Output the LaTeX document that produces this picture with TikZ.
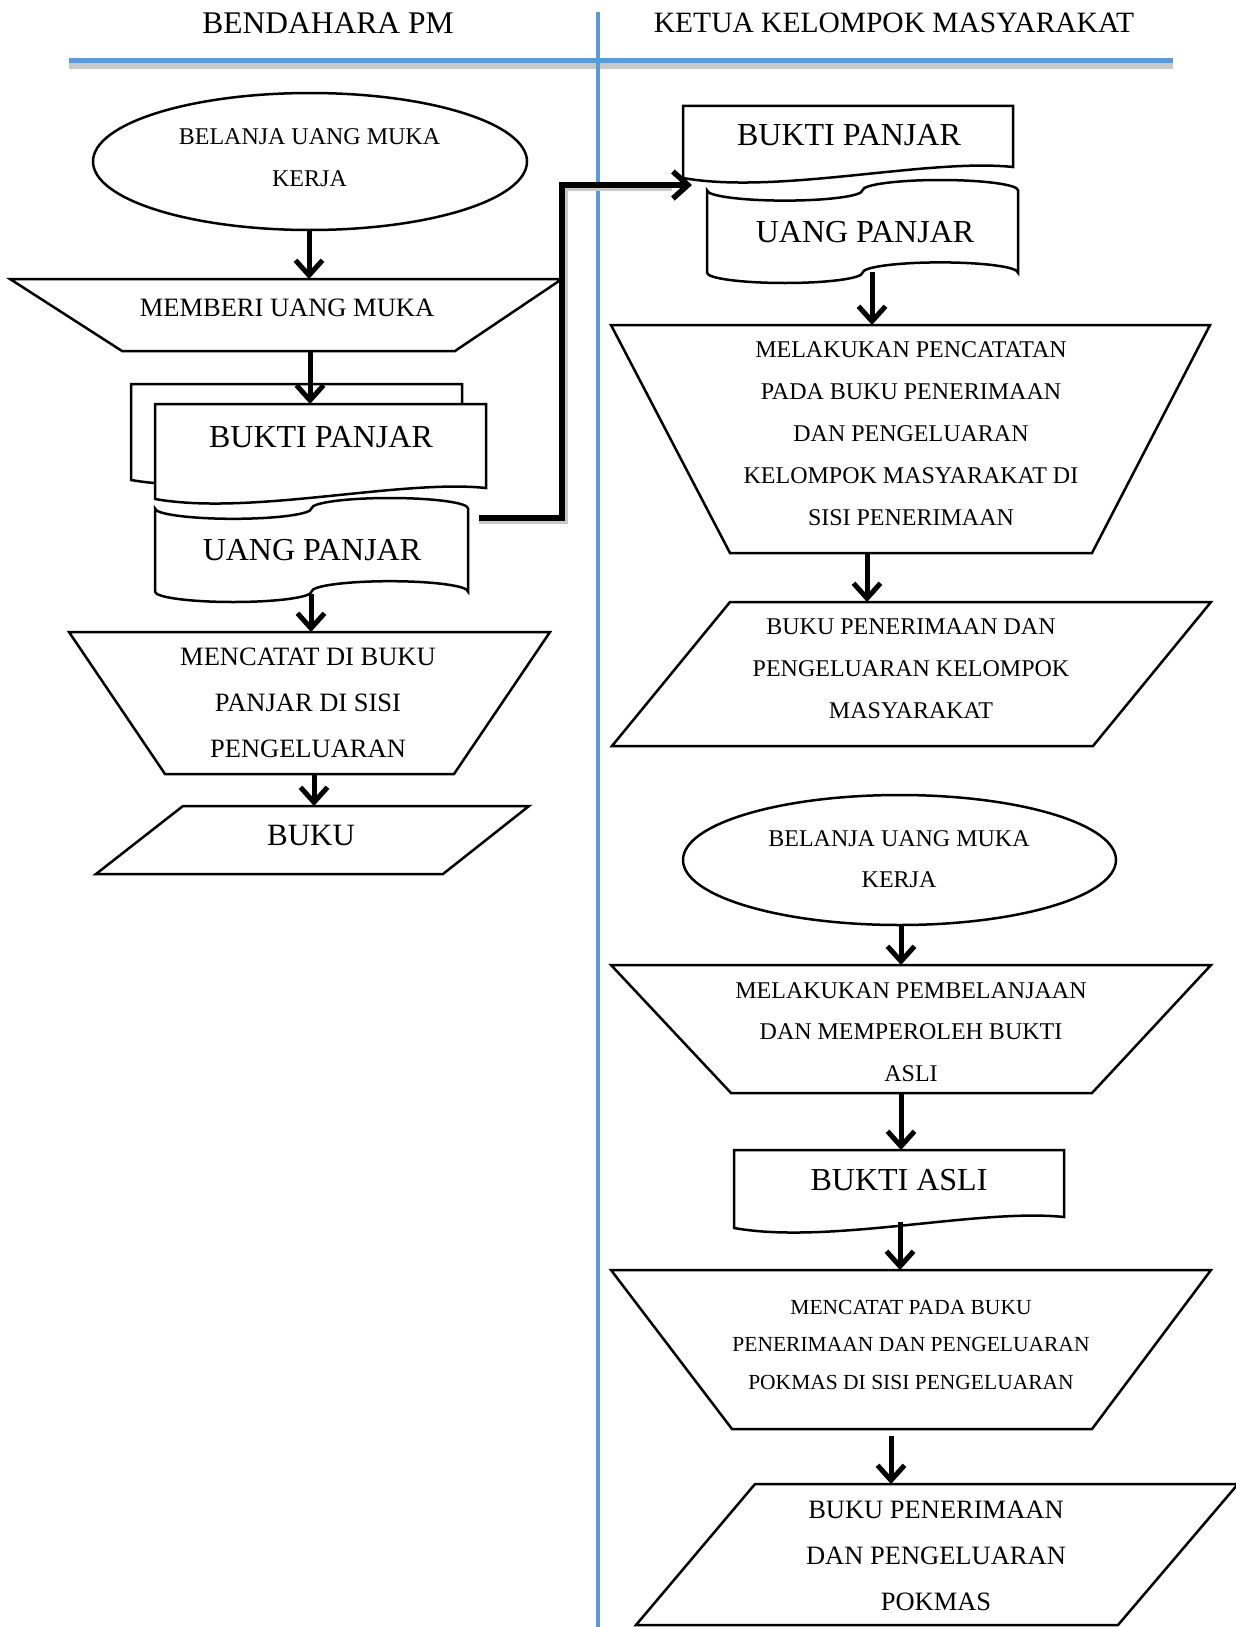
\documentclass[tikz,border=0pt]{standalone}
\usepackage{fontspec}
\setmainfont{Liberation Serif}
\usetikzlibrary{arrows.meta,calc}
\definecolor{hdrblue}{RGB}{91,155,213}
\definecolor{shdgray}{RGB}{200,200,200}
\newcommand\myfs[2]{\fontsize{#1}{#2}\selectfont}
% document shape: L T W H
\newcommand\docshape[4]{%
  \draw[shp] ({#1},{#2}) -- ({#1+#3},{#2}) -- ({#1+#3},{#2+#4-11})
    .. controls ({#1+0.74*#3},{#2+#4-20}) and ({#1+0.29*#3},{#2+#4+17}) .. ({#1},{#2+#4}) -- cycle;}
% punched tape shape: L T W H
\newcommand\tapeshape[4]{%
  \pgfmathsetmacro\tpL{#1}\pgfmathsetmacro\tpT{#2}%
  \pgfmathsetmacro\tpr{#3/4}\pgfmathsetmacro\tpa{#4/10}%
  \pgfmathsetmacro\tpH{#4}\pgfmathsetmacro\tpk{0.5523}%
  \draw[shp] (\tpL,\tpT+\tpa)
    .. controls (\tpL,\tpT+\tpa+\tpk*\tpa) and (\tpL+\tpr-\tpk*\tpr,\tpT+2*\tpa) .. (\tpL+\tpr,\tpT+2*\tpa)
    .. controls (\tpL+\tpr+\tpk*\tpr,\tpT+2*\tpa) and (\tpL+2*\tpr,\tpT+\tpa+\tpk*\tpa) .. (\tpL+2*\tpr,\tpT+\tpa)
    .. controls (\tpL+2*\tpr,\tpT+\tpa-\tpk*\tpa) and (\tpL+3*\tpr-\tpk*\tpr,\tpT) .. (\tpL+3*\tpr,\tpT)
    .. controls (\tpL+3*\tpr+\tpk*\tpr,\tpT) and (\tpL+4*\tpr,\tpT+\tpa-\tpk*\tpa) .. (\tpL+4*\tpr,\tpT+\tpa)
    -- (\tpL+4*\tpr,\tpT+\tpH-\tpa)
    .. controls (\tpL+4*\tpr,\tpT+\tpH-\tpa-\tpk*\tpa) and (\tpL+3*\tpr+\tpk*\tpr,\tpT+\tpH-2*\tpa) .. (\tpL+3*\tpr,\tpT+\tpH-2*\tpa)
    .. controls (\tpL+3*\tpr-\tpk*\tpr,\tpT+\tpH-2*\tpa) and (\tpL+2*\tpr,\tpT+\tpH-\tpa-\tpk*\tpa) .. (\tpL+2*\tpr,\tpT+\tpH-\tpa)
    .. controls (\tpL+2*\tpr,\tpT+\tpH-\tpa+\tpk*\tpa) and (\tpL+\tpr+\tpk*\tpr,\tpT+\tpH) .. (\tpL+\tpr,\tpT+\tpH)
    .. controls (\tpL+\tpr-\tpk*\tpr,\tpT+\tpH) and (\tpL,\tpT+\tpH-\tpa+\tpk*\tpa) .. (\tpL,\tpT+\tpH-\tpa)
    -- cycle;}
\begin{document}
\begin{tikzpicture}[x=1pt,y=-1pt,
  shp/.style={draw=black,line width=2.5pt,fill=white,line join=miter},
  txt/.style={align=center,inner sep=0pt,text=black},
  arr/.style={line width=5pt,-{Straight Barb[length=15pt,width=27pt]}},
  elbow/.style={line width=5.5pt,-{Straight Barb[length=15pt,width=27pt]}},
  elbowshadow/.style={line width=5.5pt,draw=shdgray}]
\useasboundingbox[fill=white] (0,0) rectangle (1235,1627);

% ---- swimlane lines ----
\draw[line width=6pt,shdgray] (69,66.5) -- (1173,66.5);
\draw[line width=5pt,hdrblue] (69,61) -- (1173,61);
\draw[line width=4pt,hdrblue] (598,12) -- (598,1627);

\node[txt,font=\myfs{31.5}{36}] (hleft) at (328,23) {BENDAHARA PM};
\node[txt,font=\myfs{29.5}{34}] (hright) at (894,23) {KETUA KELOMPOK MASYARAKAT};

% ================= LEFT COLUMN =================
\draw[shp] (310,161.5) ellipse [x radius=217, y radius=68.5];
\node[txt,font=\myfs{24}{42}] (lstart) at (309.5,158) {BELANJA UANG MUKA\\KERJA};

\draw[shp] (10,279) -- (562,279) -- (455,351) -- (122,351) -- cycle;
\node[txt,font=\myfs{26.5}{30}] (lgive) at (287,308) {MEMBERI UANG MUKA};

\docshape{131}{384}{331}{96}
\docshape{155}{404}{331}{95}
\node[txt,font=\myfs{32}{36}] (lbukti) at (321,437) {BUKTI PANJAR};

\tapeshape{155}{498}{313}{104}
\node[txt,font=\myfs{32}{36}] (luang) at (312,550) {UANG PANJAR};

\draw[shp] (69,632) -- (550,632) -- (454,774) -- (165,774) -- cycle;
\node[txt,font=\myfs{26.5}{46}] (lcatat) at (308,703) {MENCATAT DI BUKU\\PANJAR DI SISI\\PENGELUARAN};

\draw[shp] (183,806) -- (529,806) -- (443,874) -- (96,874) -- cycle;
\node[txt,font=\myfs{31}{36}] (lbuku) at (311,835) {BUKU};

% ================= RIGHT COLUMN =================
\docshape{683}{106}{330}{72}
\node[txt,font=\myfs{32}{36}] (rbukti) at (849,135) {BUKTI PANJAR};

\tapeshape{707}{180}{311}{103}
\node[txt,font=\myfs{32}{36}] (ruang) at (865,232) {UANG PANJAR};

\draw[shp] (611,325) -- (1210,325) -- (1092,553) -- (730,553) -- cycle;
\node[txt,font=\myfs{24}{42}] (rcatat) at (911,434) {MELAKUKAN PENCATATAN\\PADA BUKU PENERIMAAN\\DAN PENGELUARAN\\KELOMPOK MASYARAKAT DI\\SISI PENERIMAAN};

\draw[shp] (730,602) -- (1211,602) -- (1093,746) -- (612,746) -- cycle;
\node[txt,font=\myfs{24}{42}] (rbuku) at (911,669) {BUKU PENERIMAAN DAN\\PENGELUARAN KELOMPOK\\MASYARAKAT};

\draw[shp] (899.5,860) ellipse [x radius=216.5, y radius=65];
\node[txt,font=\myfs{24}{41}] (rstart) at (899,859.5) {BELANJA UANG MUKA\\KERJA};

\draw[shp] (611,965) -- (1211,965) -- (1092,1093) -- (731,1093) -- cycle;
\node[txt,font=\myfs{24}{41.5}] (rbelanja) at (911,1032) {MELAKUKAN PEMBELANJAAN\\DAN MEMPEROLEH BUKTI\\ASLI};

\docshape{734}{1150}{330}{78}
\node[txt,font=\myfs{32}{36}] (rasli) at (899,1180) {BUKTI ASLI};

\draw[shp] (611,1270) -- (1211,1270) -- (1092,1429) -- (732,1429) -- cycle;
\node[txt,font=\myfs{21.5}{37.5}] (rcatat2) at (911,1344.5) {MENCATAT PADA BUKU\\PENERIMAAN DAN PENGELUARAN\\POKMAS DI SISI PENGELUARAN};

\draw[shp] (755,1484) -- (1238,1484) -- (1118,1625) -- (636,1625) -- cycle;
\node[txt,font=\myfs{26.5}{46}] (rbuku2) at (936,1556) {BUKU PENERIMAAN\\DAN PENGELUARAN\\POKMAS};

% ================= CONNECTOR END POINTS =================
\coordinate (a1s) at (309,231);  \coordinate (a1e) at (309,279);
\coordinate (a2s) at (310,352);  \coordinate (a2e) at (310,404);
\coordinate (a3s) at (311,594);  \coordinate (a3e) at (311,632);
\coordinate (a4s) at (314,775);  \coordinate (a4e) at (314,806);
\coordinate (a5s) at (872,272);  \coordinate (a5e) at (872,325);
\coordinate (a6s) at (867,554);  \coordinate (a6e) at (867,602);
\coordinate (a7s) at (901,925);  \coordinate (a7e) at (901,965);
\coordinate (a8s) at (901,1094); \coordinate (a8e) at (901,1150);
\coordinate (a9s) at (900,1222); \coordinate (a9e) at (900,1270);
\coordinate (a10s) at (891,1436); \coordinate (a10e) at (891,1484);
\coordinate (eS) at (479,518);
\coordinate (eB) at (562,518);
\coordinate (eT) at (562,185);
\coordinate (eE) at (692,185);

% elbow connector with shadow
\draw[elbowshadow] ($(eS)+(0,3)$) -- ($(eB)+(3,3)$) -- ($(eT)+(3,3)$) -- ($(eE)+(-20,3)$);
\draw[elbow] (eS) -- (eB) -- (eT) -- (eE);

\foreach \i in {1,...,10} {\draw[arr] (a\i s) -- (a\i e);}
\end{tikzpicture}
\end{document}
